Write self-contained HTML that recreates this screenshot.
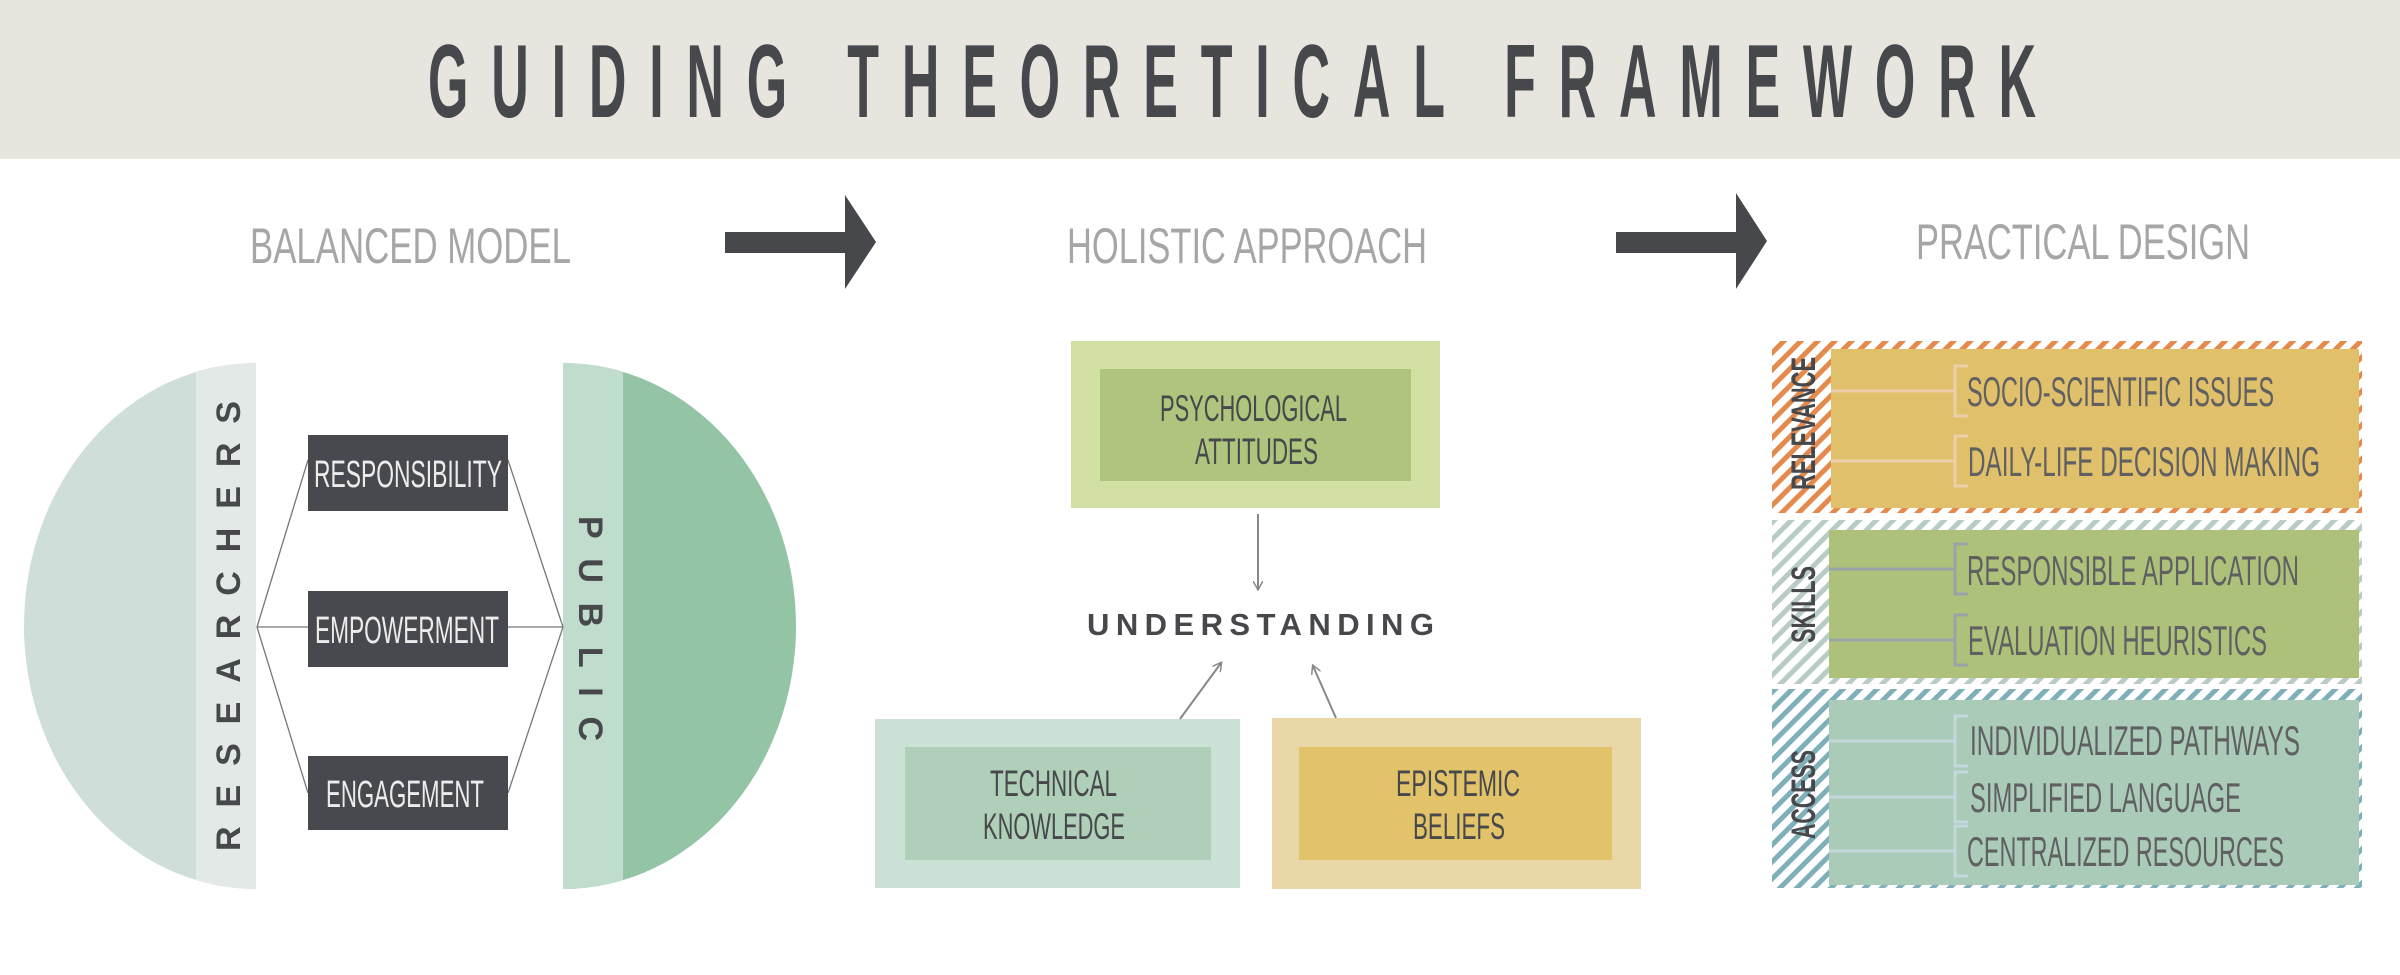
<!DOCTYPE html>
<html><head><meta charset="utf-8"><style>
html,body{margin:0;padding:0;background:#fff;}
svg{display:block;}
text{font-family:"Liberation Sans Narrow","Liberation Sans",sans-serif;}
</style></head><body>
<svg width="2400" height="975" viewBox="0 0 2400 975" xmlns="http://www.w3.org/2000/svg">
<defs>
<pattern id="hO" width="12" height="12" patternUnits="userSpaceOnUse" patternTransform="rotate(45)">
<rect width="12" height="12" fill="#fff"/><rect width="5" height="12" fill="#e38a4c"/></pattern>
<pattern id="hS" width="12" height="12" patternUnits="userSpaceOnUse" patternTransform="rotate(45)">
<rect width="12" height="12" fill="#fff"/><rect width="5" height="12" fill="#b8cbc6"/></pattern>
<pattern id="hA" width="12" height="12" patternUnits="userSpaceOnUse" patternTransform="rotate(45)">
<rect width="12" height="12" fill="#fff"/><rect width="5" height="12" fill="#7fb0ba"/></pattern>
<clipPath id="cl"><ellipse cx="256" cy="626" rx="232" ry="263"/></clipPath>
<clipPath id="cr"><ellipse cx="563" cy="626" rx="233" ry="263"/></clipPath>
<marker id="ar" markerWidth="10" markerHeight="10" refX="8" refY="5" orient="auto" markerUnits="userSpaceOnUse">
<path d="M0,0 L9,5 L0,10" fill="none" stroke="#888" stroke-width="1.5"/></marker>
</defs>
<!-- header -->
<rect x="0" y="0" width="2400" height="159" fill="#e8e5df"/>
<text transform="translate(428,117) scale(0.5,1)" font-size="104" font-weight="bold" fill="#46484c" textLength="3216" lengthAdjust="spacing">GUIDING THEORETICAL FRAMEWORK</text>
<text x="250" y="263" font-size="50" fill="#a6a6a6" textLength="321" lengthAdjust="spacingAndGlyphs">BALANCED MODEL</text>
<text x="1067" y="263" font-size="50" fill="#a6a6a6" textLength="360" lengthAdjust="spacingAndGlyphs">HOLISTIC APPROACH</text>
<text x="1916" y="259" font-size="50" fill="#a6a6a6" textLength="334" lengthAdjust="spacingAndGlyphs">PRACTICAL DESIGN</text>
<!-- arrows -->
<path d="M725,232 H845 V195 L876,242 L845,289 V253 H725 Z" fill="#46484c"/>
<path d="M1616,232 H1736 V193 L1767,241 L1736,289 V253 H1616 Z" fill="#46484c"/>
<!-- balanced model -->
<g clip-path="url(#cl)">
<rect x="0" y="300" width="256" height="650" fill="#d0deda"/>
<rect x="196" y="300" width="60" height="650" fill="#e2e9e6"/>
</g>
<g clip-path="url(#cr)">
<rect x="563" y="300" width="300" height="650" fill="#94c4a6"/>
<rect x="563" y="300" width="60" height="650" fill="#c0dccd"/>
</g>
<g stroke="#777" stroke-width="1.3" fill="none">
<path d="M257,627 L308,460 M257,627 L308,627 M257,627 L308,793"/>
<path d="M563,627 L508,460 M563,627 L508,627 M563,627 L508,793"/>
</g>
<rect x="308" y="435" width="200" height="76" fill="#48494e"/>
<rect x="308" y="591" width="200" height="76" fill="#48494e"/>
<rect x="308" y="756" width="200" height="74" fill="#48494e"/>
<text x="314" y="487" font-size="38" fill="#ececec" textLength="188" lengthAdjust="spacingAndGlyphs">RESPONSIBILITY</text>
<text x="315" y="643" font-size="38" fill="#ececec" textLength="184" lengthAdjust="spacingAndGlyphs">EMPOWERMENT</text>
<text x="326" y="807" font-size="38" fill="#ececec" textLength="158" lengthAdjust="spacingAndGlyphs">ENGAGEMENT</text>
<text transform="translate(240,851) rotate(-90)" x="0" y="0" font-size="34" font-weight="bold" fill="#46484c" textLength="450" lengthAdjust="spacing" font-family="Liberation Sans">RESEARCHERS</text>
<text transform="translate(579,516) rotate(90)" x="0" y="0" font-size="34" font-weight="bold" fill="#46484c" textLength="225" lengthAdjust="spacing" font-family="Liberation Sans">PUBLIC</text>
<!-- holistic -->
<rect x="1071" y="341" width="369" height="167" fill="#d2e0a4"/>
<rect x="1100" y="369" width="311" height="112" fill="#afc47c"/>
<text x="1160" y="421" font-size="37" fill="#46484c" textLength="187" lengthAdjust="spacingAndGlyphs">PSYCHOLOGICAL</text>
<text x="1195" y="464" font-size="37" fill="#46484c" textLength="123" lengthAdjust="spacingAndGlyphs">ATTITUDES</text>
<rect x="875" y="719" width="365" height="169" fill="#cde2d6"/>
<rect x="905" y="747" width="306" height="113" fill="#b0cfb9"/>
<text x="990" y="796" font-size="37" fill="#46484c" textLength="127" lengthAdjust="spacingAndGlyphs">TECHNICAL</text>
<text x="983" y="839" font-size="37" fill="#46484c" textLength="142" lengthAdjust="spacingAndGlyphs">KNOWLEDGE</text>
<rect x="1272" y="718" width="369" height="171" fill="#ead7a7"/>
<rect x="1299" y="747" width="313" height="113" fill="#e2c36a"/>
<text x="1396" y="796" font-size="37" fill="#46484c" textLength="124" lengthAdjust="spacingAndGlyphs">EPISTEMIC</text>
<text x="1413" y="839" font-size="37" fill="#46484c" textLength="92" lengthAdjust="spacingAndGlyphs">BELIEFS</text>
<text x="1087" y="635" font-size="31" font-weight="bold" fill="#46484c" textLength="347" lengthAdjust="spacing" font-family="Liberation Sans">UNDERSTANDING</text>
<g stroke="#888" stroke-width="2" fill="none">
<line x1="1258" y1="514" x2="1258" y2="589" marker-end="url(#ar)"/>
<line x1="1180" y1="719" x2="1221" y2="663" marker-end="url(#ar)"/>
<line x1="1336" y1="718" x2="1313" y2="666" marker-end="url(#ar)"/>
</g>
<!-- practical -->
<rect x="1772" y="341" width="590" height="172" fill="url(#hO)"/>
<rect x="1831" y="349" width="528" height="159" fill="#e0c06a"/>
<rect x="1772" y="520" width="590" height="164" fill="url(#hS)"/>
<rect x="1829" y="530" width="530" height="148" fill="#adc17b"/>
<rect x="1772" y="689" width="590" height="199" fill="url(#hA)"/>
<rect x="1829" y="700" width="530" height="185" fill="#abcbb9"/>
<text transform="translate(1815,490) rotate(-90)" font-size="34" font-weight="bold" fill="#46484c" textLength="133" lengthAdjust="spacingAndGlyphs">RELEVANCE</text>
<text transform="translate(1815,643) rotate(-90)" font-size="34" font-weight="bold" fill="#46484c" textLength="77" lengthAdjust="spacingAndGlyphs">SKILLS</text>
<text transform="translate(1815,839) rotate(-90)" font-size="34" font-weight="bold" fill="#46484c" textLength="89" lengthAdjust="spacingAndGlyphs">ACCESS</text>
<g fill="none" stroke-width="3">
<g stroke="#eccfaa">
<path d="M1831,391 H1955 M1968,366 H1955 V416 H1968"/>
<path d="M1831,461 H1955 M1968,436 H1955 V486 H1968"/>
</g>
<g stroke="#9aa3a8">
<path d="M1829,569 H1955 M1968,544 H1955 V594 H1968"/>
<path d="M1829,640 H1955 M1968,615 H1955 V665 H1968"/>
</g>
<g stroke="#c3d8dc">
<path d="M1829,741 H1955 M1968,716 H1955 V766 H1968"/>
<path d="M1829,797 H1955 M1968,772 H1955 V822 H1968"/>
<path d="M1829,851 H1955 M1968,826 H1955 V876 H1968"/>
</g>
</g>
<g font-size="42" fill="#606062">
<text x="1967" y="406" textLength="307" lengthAdjust="spacingAndGlyphs">SOCIO-SCIENTIFIC ISSUES</text>
<text x="1968" y="476" textLength="352" lengthAdjust="spacingAndGlyphs">DAILY-LIFE DECISION MAKING</text>
<text x="1967" y="585" textLength="332" lengthAdjust="spacingAndGlyphs">RESPONSIBLE APPLICATION</text>
<text x="1968" y="655" textLength="299" lengthAdjust="spacingAndGlyphs">EVALUATION HEURISTICS</text>
<text x="1970" y="755" textLength="330" lengthAdjust="spacingAndGlyphs">INDIVIDUALIZED PATHWAYS</text>
<text x="1970" y="812" textLength="271" lengthAdjust="spacingAndGlyphs">SIMPLIFIED LANGUAGE</text>
<text x="1967" y="866" textLength="317" lengthAdjust="spacingAndGlyphs">CENTRALIZED RESOURCES</text>
</g>
</svg>
</body></html>
